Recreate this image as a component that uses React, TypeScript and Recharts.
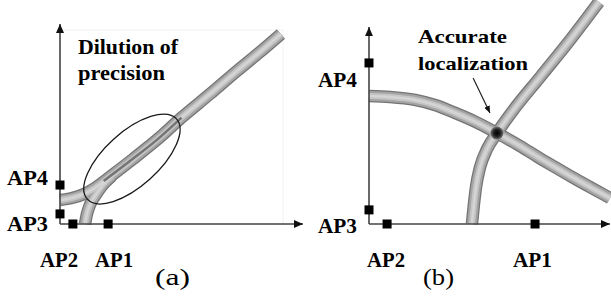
import { ComposedChart, Line, Scatter, XAxis, YAxis, ReferenceLine, ReferenceArea } from "recharts";

type Pt = { x: number; y: number };

// ---- panel (a): dilution of precision (units: % of plot width / height)
const apA = [
  { name: "AP1", x: 19.8, y: 0 },
  { name: "AP2", x: 5.3, y: 0 },
  { name: "AP3", x: 0, y: 4.5 },
  { name: "AP4", x: 0, y: 17.4 },
];
const bandA1: Pt[] = [
  { x: 0, y: 10.7 },
  { x: 4.9, y: 11.6 },
  { x: 9.9, y: 13.4 },
  { x: 14.4, y: 16.1 },
  { x: 22.6, y: 22.8 },
  { x: 30, y: 29 },
  { x: 41.2, y: 38.8 },
  { x: 49.8, y: 47.3 },
  { x: 61.7, y: 58 },
  { x: 72.8, y: 68.3 },
  { x: 82.3, y: 76.8 },
  { x: 90.9, y: 84.8 },
];
const bandA2: Pt[] = [
  { x: 10.3, y: 0 },
  { x: 11.1, y: 4.5 },
  { x: 12.3, y: 8.5 },
  { x: 14.4, y: 12.5 },
  { x: 17.3, y: 17 },
  { x: 21.4, y: 21.4 },
];
const ridgeA: Pt[] = [
  { x: 18, y: 19.2 },
  { x: 28.8, y: 28.1 },
  { x: 41.2, y: 38.8 },
  { x: 50, y: 47.5 },
];
const ellipseA: Pt[] = [{ x: 29.6, y: 29 }];

// ---- panel (b): accurate localization
const apB = [
  { name: "AP1", x: 68.9, y: 0 },
  { name: "AP2", x: 7.5, y: 0 },
  { name: "AP3", x: 0, y: 6.3 },
  { name: "AP4", x: 0, y: 71.9 },
];
const bandB1: Pt[] = [
  { x: 0, y: 57.1 },
  { x: 8.7, y: 56.7 },
  { x: 19.1, y: 55.4 },
  { x: 27.4, y: 53.1 },
  { x: 35.7, y: 49.6 },
  { x: 44.4, y: 45.5 },
  { x: 53.1, y: 40.6 },
  { x: 62.7, y: 34.8 },
  { x: 70.1, y: 29.9 },
  { x: 77.2, y: 25.4 },
  { x: 84.2, y: 21 },
  { x: 91.7, y: 16.5 },
  { x: 100, y: 11.6 },
];
const bandB2: Pt[] = [
  { x: 42.7, y: 0 },
  { x: 43.6, y: 9.4 },
  { x: 44.4, y: 16.5 },
  { x: 46.1, y: 25.4 },
  { x: 49, y: 33.5 },
  { x: 53.1, y: 40.6 },
  { x: 59.3, y: 50 },
  { x: 71, y: 65.6 },
  { x: 83.4, y: 82.1 },
  { x: 95.4, y: 99.1 },
];
const spotB: Pt[] = [{ x: 53.1, y: 40.6 }];
const pointerB: Pt[] = [
  { x: 43.2, y: 65.2 },
  { x: 50.2, y: 49.6 },
];

const axisTopA = 89.3;
const axisTopB = 87.9;

const bandLayers = [
  { w: 12.5, c: "#747474" },
  { w: 10, c: "#a4a4a4" },
  { w: 6, c: "#c4c4c4" },
  { w: 2.5, c: "#d4d4d4" },
];

const serif = "Liberation Serif";

function Square(props: any) {
  const { cx, cy } = props;
  return <rect x={cx - 4.5} y={cy - 4.5} width={9} height={9} fill="#000" />;
}

function Ellipse(props: any) {
  const { cx, cy } = props;
  return (
    <ellipse
      cx={cx}
      cy={cy}
      rx={60}
      ry={27}
      transform={`rotate(-42 ${cx} ${cy})`}
      fill="none"
      stroke="#1a1a1a"
      strokeWidth={1.3}
    />
  );
}

function Spot(props: any) {
  const { cx, cy } = props;
  return <circle cx={cx} cy={cy} r={6.5} fill="url(#spotGrad)" />;
}

function Panel({
  id,
  left,
  width,
  margin,
  bands,
  aps,
  axisTop,
  children,
}: {
  id: string;
  left: number;
  width: number;
  margin: { top: number; left: number; right: number; bottom: number };
  bands: Pt[][];
  aps: Pt[];
  axisTop: number;
  children?: any;
}) {
  return (
    <div style={{ position: "absolute", left, top: 0 }}>
      <ComposedChart width={width} height={304} margin={margin}>
        <defs>
          <marker id={`arr-${id}`} markerWidth={9} markerHeight={8} refX={9} refY={4} orient="auto" markerUnits="userSpaceOnUse">
            <path d="M0,0 L9,4 L0,8 z" fill="#111" />
          </marker>
          <marker id={`ptr-${id}`} markerWidth={7} markerHeight={6} refX={7} refY={3} orient="auto" markerUnits="userSpaceOnUse">
            <path d="M0,0 L7,3 L0,6 z" fill="#111" />
          </marker>
          <radialGradient id="spotGrad">
            <stop offset="0%" stopColor="#000" />
            <stop offset="55%" stopColor="#222" />
            <stop offset="100%" stopColor="#777" />
          </radialGradient>
        </defs>
        <XAxis type="number" dataKey="x" domain={[0, 100]} hide />
        <YAxis type="number" dataKey="y" domain={[0, 100]} hide />
        {bandLayers.flatMap((layer, li) =>
          bands.map((b, bi) => (
            <Line
              key={`${id}-${li}-${bi}`}
              data={b}
              dataKey="y"
              type="monotone"
              stroke={layer.c}
              strokeWidth={layer.w}
              dot={false}
              activeDot={false}
              legendType="none"
              isAnimationActive={false}
            />
          ))
        )}
        {children}
        <ReferenceLine
          segment={[
            { x: 0, y: 0 },
            { x: 100, y: 0 },
          ]}
          stroke="#444"
          strokeWidth={1.6}
          markerEnd={`url(#arr-${id})`}
          ifOverflow="visible"
        />
        <ReferenceLine
          segment={[
            { x: 0, y: 0 },
            { x: 0, y: axisTop },
          ]}
          stroke="#444"
          strokeWidth={1.6}
          markerEnd={`url(#arr-${id})`}
          ifOverflow="visible"
        />
        <Scatter data={aps} shape={Square} isAnimationActive={false} legendType="none" />
      </ComposedChart>
    </div>
  );
}

function T({ x, y, w, size, bold = true, children }: any) {
  return (
    <text
      x={x}
      y={y}
      fontSize={size}
      fontFamily={serif}
      fontWeight={bold ? "bold" : "normal"}
      textLength={w}
      lengthAdjust="spacingAndGlyphs"
      fill="#000"
    >
      {children}
    </text>
  );
}

export default function App() {
  return (
    <div style={{ position: "absolute", left: 0, top: 0, width: 611, height: 304, background: "#fff", overflow: "hidden" }}>
      <Panel
        id="a"
        left={0}
        width={305}
        margin={{ top: 0, left: 60, right: 2, bottom: 80 }}
        bands={[bandA1, bandA2]}
        aps={apA}
        axisTop={axisTopA}
      >
        <ReferenceArea x1={0} x2={91.8} y1={0} y2={86.6} fill="none" stroke="#f2f2f2" ifOverflow="visible" />
        <Line
          data={ridgeA}
          dataKey="y"
          type="monotone"
          stroke="#333"
          strokeOpacity={0.6}
          strokeWidth={2.5}
          dot={false}
          activeDot={false}
          legendType="none"
          isAnimationActive={false}
        />
        <Scatter data={ellipseA} shape={Ellipse} isAnimationActive={false} legendType="none" />
      </Panel>
      <Panel
        id="b"
        left={305}
        width={306}
        margin={{ top: 0, left: 64, right: 1, bottom: 80 }}
        bands={[bandB1, bandB2]}
        aps={apB}
        axisTop={axisTopB}
      >
        <Scatter data={spotB} shape={Spot} isAnimationActive={false} legendType="none" />
        <ReferenceLine
          segment={pointerB}
          stroke="#222"
          strokeWidth={1.2}
          markerEnd="url(#ptr-b)"
          ifOverflow="visible"
        />
      </Panel>
      <svg width={611} height={304} style={{ position: "absolute", left: 0, top: 0, pointerEvents: "none" }}>
        <T x={78} y={54} w={100} size={20}>Dilution of</T>
        <T x={78} y={80} w={87} size={20}>precision</T>
        <T x={7} y={185} w={41} size={21}>AP4</T>
        <T x={7} y={231} w={41} size={21}>AP3</T>
        <T x={40} y={267} w={38} size={21}>AP2</T>
        <T x={95} y={267} w={38} size={21}>AP1</T>
        <T x={155} y={285} w={35} size={24} bold={false}>(a)</T>

        <T x={418} y={43} w={89} size={19}>Accurate</T>
        <T x={418} y={70} w={110} size={19}>localization</T>
        <T x={318} y={87} w={39} size={21}>AP4</T>
        <T x={318} y={233} w={39} size={21}>AP3</T>
        <T x={367} y={267} w={38} size={21}>AP2</T>
        <T x={513} y={267} w={39} size={21}>AP1</T>
        <T x={423} y={285} w={31} size={24} bold={false}>(b)</T>
      </svg>
    </div>
  );
}
